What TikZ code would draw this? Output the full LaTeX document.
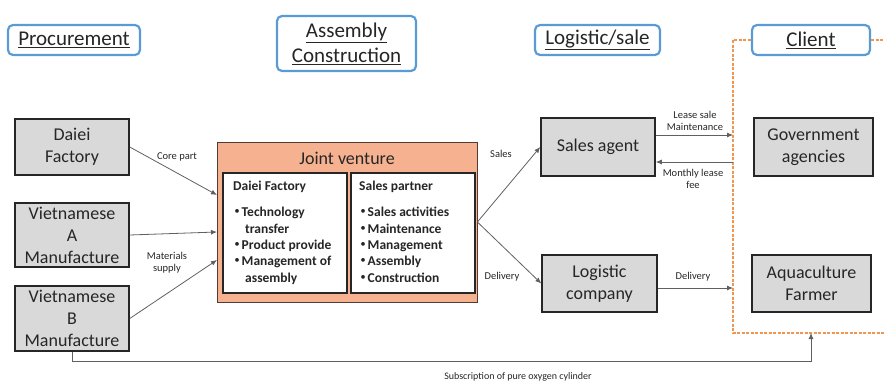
\documentclass[tikz,border=0pt]{standalone}
\usepackage{fontspec}
\setmainfont{Carlito}
\newfontfamily\cjkfont{Noto Sans CJK JP}
\usetikzlibrary{arrows.meta}

\definecolor{hdrblue}{RGB}{91,155,213}
\definecolor{boxgray}{RGB}{217,217,217}
\definecolor{boxedge}{RGB}{38,38,38}
\definecolor{jvfill}{RGB}{246,178,144}
\definecolor{jvedge}{RGB}{80,60,50}
\definecolor{linkgray}{RGB}{96,96,96}
\definecolor{clientorange}{RGB}{240,150,80}
\definecolor{txtdark}{RGB}{38,38,38}

% bullet used in the joint-venture lists
\newcommand\jvbul{\makebox[8.5pt][l]{\hspace*{-2.75pt}\cjkfont ・}}

\tikzset{
  header/.style={draw=hdrblue, line width=2.2pt, rounded corners=5pt, fill=white,
    align=center, inner sep=0pt, text=txtdark,
    font=\fontsize{21}{25}\selectfont},
  party/.style={draw=boxedge, line width=1.5pt, fill=boxgray, align=center,
    inner sep=0pt, text=txtdark, font=\fontsize{18}{22}\selectfont},
  jvbox/.style={draw=jvedge, line width=0.8pt, fill=jvfill, inner sep=0pt},
  role/.style={draw=boxedge, line width=1.2pt, fill=white, inner sep=0pt},
  rolelist/.style={align=left, anchor=north west, inner sep=0pt, text=txtdark,
    font=\fontsize{13.5}{16.3}\selectfont\bfseries},
  link/.style={draw=linkgray, line width=0.8pt,
    -{Latex[length=6pt,width=5pt]}},
  lbl/.style={align=center, inner sep=0pt, text=txtdark,
    font=\fontsize{10.5}{12}\selectfont},
  clientzone/.style={draw=clientorange, line width=1.3pt,
    dash pattern=on 3pt off 1.5pt},
}

\begin{document}
\begin{tikzpicture}[x=1pt, y=-1pt]
\useasboundingbox (0,0) rectangle (884,385);

% stage headers
\node[header, minimum width=132, minimum height=30] (hproc) at (74,40) {\underline{Procurement}};
\node[header, minimum width=139, minimum height=55] (hasm) at (346.5,43.5) {\underline{Assembly}\\\underline{Construction}};
\node[header, minimum width=125, minimum height=30] (hlog) at (597.5,40) {\underline{Logistic/sale}};

% client zone (dashed frame running off the right edge)
\coordinate (ztl) at (733,40);
\coordinate (zbl) at (733,333);
\coordinate (zbr) at (890,333);
\coordinate (ztr) at (890,40);
\node[header, minimum width=118, minimum height=30] (hcli) at (811,40) {\underline{Client}};
\draw[clientzone] (hcli.west) -- (ztl) -- (zbl) -- (zbr);
\draw[clientzone] (hcli.east) -- (ztr);

% suppliers
\node[party, minimum width=114, minimum height=56] (df) at (72,147) {Daiei\\Factory};
\node[party, minimum width=114, minimum height=64] (va) at (72,235) {Vietnamese\\A\\Manufacture};
\node[party, minimum width=114, minimum height=65] (vb) at (72,318.5) {Vietnamese\\B\\Manufacture};

% joint venture
\node[jvbox, minimum width=260, minimum height=160] (jv) at (347,222) {};
\node[inner sep=0pt, text=txtdark, font=\fontsize{18}{22}\selectfont] (jvt) at (347,158) {Joint venture};
\node[role, minimum width=124, minimum height=120] (rdf) at (285,233) {};
\node[role, minimum width=124, minimum height=120] (rsp) at (413,233) {};
\node[rolelist] (ldf) at (233,181) {Daiei Factory\\[10pt]
  \jvbul Technology\\
  \hspace*{12pt}transfer\\
  \jvbul Product provide\\
  \jvbul Management of\\
  \hspace*{12pt}assembly};
\node[rolelist] (lsp) at (359,181) {Sales partner\\[10pt]
  \jvbul Sales activities\\
  \jvbul Maintenance\\
  \jvbul Management\\
  \jvbul Assembly\\
  \jvbul Construction};

% logistics and sales
\node[party, minimum width=114, minimum height=58] (sa) at (598,147) {Sales agent};
\node[party, minimum width=115, minimum height=57] (lc) at (599.5,283.5) {Logistic\\company};

% clients
\node[party, minimum width=119, minimum height=58] (ga) at (813.5,147) {Government\\agencies};
\node[party, minimum width=119, minimum height=57] (af) at (811.5,283.5) {Aquaculture\\Farmer};

% entry points on the joint venture and on the client frame
\coordinate (jvin1) at (217,195);
\coordinate (jvin2) at (217,232);
\coordinate (jvin3) at (217,260);
\coordinate (zlease) at (733,135);
\coordinate (zfee) at (733,162);
\coordinate (zdel) at (733,288);
\coordinate (zsub) at (811,333);
\coordinate (subturn) at (811,361);

% supply flows
\draw[link] (df.east) -- (jvin1);
\draw[link] (va.east) -- (jvin2);
\draw[link] (vb.east) -- (jvin3);
\node[lbl] (lcore) at (177,157) {Core part};
\node[lbl] (lmat) at (167,263) {Materials\\supply};

% distribution flows
\draw[link] (jv.east) -- (sa.west);
\draw[link] (jv.east) -- (lc.west);
\node[lbl] (lsales) at (501,154) {Sales};
\node[lbl] (ldel1) at (502,277) {Delivery};

% flows towards clients
\draw[link] (sa.east |- zlease) -- (zlease);
\draw[link] (zfee) -- (sa.east |- zfee);
\draw[link] (lc.east |- zdel) -- (zdel);
\node[lbl] (llease) at (695,121) {Lease sale\\Maintenance};
\node[lbl] (lfee) at (693,179) {Monthly lease\\fee};
\node[lbl] (ldel2) at (693,277) {Delivery};

% oxygen cylinder subscription
\draw[link] (vb.south) |- (subturn) -- (zsub);
\node[lbl, font=\fontsize{10}{12}\selectfont] (lsub) at (518,377) {Subscription of pure oxygen cylinder};
\end{tikzpicture}
\end{document}
